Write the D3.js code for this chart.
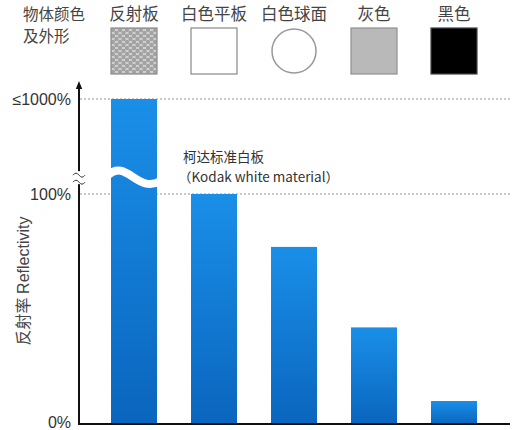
<!DOCTYPE html>
<html>
<head>
<meta charset="utf-8">
<script src="https://cdn.jsdelivr.net/npm/d3@7"></script>
<style>
  body { margin: 0; background: #fff; }
  text { font-family: "Liberation Sans", Arial, "Noto Sans CJK SC", sans-serif; fill: #333; }
  .cjk { font-family: "Noto Sans CJK SC", sans-serif; }
</style>
</head>
<body>
<div id="chart"></div>
<script>
"use strict";
// data
const categories = ["反射板", "白色平板", "白色球面", "灰色", "黑色"];
const swatchKinds = ["reflector", "white", "sphere", "grey", "black"];
const reflectivity = [1000, 100, 77, 42, 10];
const tickValues = [0, 100, 1000];
const tickLabels = ["0%", "100%", "≤1000%"];
const breakValue = 250; // where the y axis is cut
const headerLines = ["物体颜色", "及外形"];
const noteLines = ["柯达标准白板", "（Kodak white material）"];

const width = 518, height = 430;
const svg = d3.select("#chart").append("svg")
    .attr("width", width)
    .attr("height", height)
    .attr("viewBox", `0 0 ${width} ${height}`);

const x = d3.scaleBand().domain(categories).range([91, 497]).paddingInner(0.425).paddingOuter(0.25);
// broken axis: 0..100 linear, 100..1000 squeezed
const y = d3.scaleLinear().domain([0, 100, 1000]).range([424, 194, 99]);
const axisX = 79, rightX = 510;

const defs = svg.append("defs");
const grad = defs.append("linearGradient").attr("id", "barGrad")
    .attr("x1", 0).attr("y1", 0).attr("x2", 0).attr("y2", 1);
grad.append("stop").attr("offset", "0%").attr("stop-color", "#1a8fe8");
grad.append("stop").attr("offset", "100%").attr("stop-color", "#0a65be");

const pat = defs.append("pattern").attr("id", "dots")
    .attr("width", 7).attr("height", 6).attr("patternUnits", "userSpaceOnUse");
pat.append("rect").attr("width", 7).attr("height", 6).attr("fill", "#d6d6d6");
pat.selectAll("circle").data([[0, 0], [7, 0], [3.5, 3], [0, 6], [7, 6]]).join("circle")
    .attr("cx", d => d[0]).attr("cy", d => d[1]).attr("r", 2.2)
    .attr("fill", "#a2a2a2");

const arrow = defs.append("marker").attr("id", "arrow")
    .attr("viewBox", "0 0 10 10").attr("refX", 5).attr("refY", 5)
    .attr("markerWidth", 4).attr("markerHeight", 5).attr("orient", "auto");
arrow.append("path").attr("d", "M0,1 L10,5 L0,9 Z").attr("fill", "#111");

// header
svg.append("g").selectAll("text").data(headerLines).join("text")
    .attr("class", "cjk")
    .attr("x", 23).attr("y", (d, i) => 20 + i * 22)
    .style("font-size", "15.5px").style("fill", "#444")
    .text(d => d);

const cols = svg.append("g").selectAll("g").data(categories).join("g")
    .attr("transform", d => `translate(${x(d) + x.bandwidth() / 2},0)`);
cols.append("text").attr("class", "cjk")
    .attr("y", 20).attr("text-anchor", "middle")
    .style("font-size", "16.5px").style("fill", "#444")
    .text(d => d);

const bw = x.bandwidth();
cols.each(function (d, i) {
    const g = d3.select(this);
    const kind = swatchKinds[i];
    if (kind === "sphere") {
        g.append("circle").attr("cx", 0).attr("cy", 51).attr("r", bw / 2 - 1)
            .attr("fill", "#fff").attr("stroke", "#999").attr("stroke-width", 1.5);
        return;
    }
    const style = {
        reflector: ["url(#dots)", "#8a8a8a"],
        white: ["#fff", "#888"],
        grey: ["#b9b9b9", "#8f8f8f"],
        black: ["#000", "#444"]
    }[kind];
    g.append("rect").attr("x", -bw / 2).attr("y", 28).attr("width", bw).attr("height", 46)
        .attr("fill", style[0]).attr("stroke", style[1]).attr("stroke-width", 1.2);
});

// dotted reference lines
svg.append("g").selectAll("line").data([100, 1000]).join("line")
    .attr("x1", axisX + 1).attr("x2", rightX)
    .attr("y1", d => y(d)).attr("y2", d => y(d))
    .attr("stroke", "#8a96a6").attr("stroke-width", 1).attr("stroke-dasharray", "2,2");

// bars
const data = categories.map((c, i) => ({ c, v: reflectivity[i] }));
svg.append("g").selectAll("rect").data(data).join("rect")
    .attr("x", d => x(d.c)).attr("width", bw)
    .attr("y", d => y(d.v)).attr("height", d => y(0) - y(d.v))
    .attr("fill", "url(#barGrad)");

// break on the tall bar
const by = y(breakValue);
const tall = data.filter(d => d.v > breakValue);
svg.append("g").selectAll("path").data(tall).join("path")
    .attr("d", d => {
        const x0 = x(d.c) - 3, x1 = x(d.c) + bw + 3;
        return `M${x0},${by - 3} C${x0 + 18},${by - 20} ${x1 - 22},${by + 16} ${x1},${by + 3}`;
    })
    .attr("fill", "none").attr("stroke", "#fff").attr("stroke-width", 8);

// axes
svg.append("line")
    .attr("x1", axisX).attr("x2", axisX)
    .attr("y1", y(0) + 1).attr("y2", y(1000) - 14)
    .attr("stroke", "#111").attr("stroke-width", 2)
    .attr("marker-end", "url(#arrow)");
svg.append("line")
    .attr("x1", axisX - 1).attr("x2", rightX)
    .attr("y1", y(0)).attr("y2", y(0))
    .attr("stroke", "#111").attr("stroke-width", 2);

// axis break marks
svg.append("rect").attr("x", axisX - 3).attr("y", by - 7).attr("width", 6).attr("height", 13).attr("fill", "#fff");
svg.append("g").selectAll("path").data([-4, 3]).join("path")
    .attr("d", o => `M${axisX - 6},${by + o + 1} q3,-4 6,0 t6,0`)
    .attr("fill", "none").attr("stroke", "#333").attr("stroke-width", 1);

const yAxis = d3.axisLeft(y).tickValues(tickValues).tickSize(0).tickPadding(0)
    .tickFormat((d, i) => tickLabels[i]);
const ya = svg.append("g").attr("transform", `translate(${axisX - 8},0)`).call(yAxis);
ya.select(".domain").remove();
ya.selectAll("text").style("font-size", "16px").style("fill", "#333")
    .style("font-family", "'Liberation Sans', Arial, sans-serif")
    .attr("dy", (d, i) => i === 0 ? "0.2em" : "0.32em");

// axis title
const title = svg.append("text")
    .attr("transform", "translate(29,281) rotate(-90)")
    .attr("text-anchor", "middle")
    .style("font-size", "16px").style("fill", "#444");
title.append("tspan").attr("class", "cjk").text("反射率 ");
title.append("tspan").text("Reflectivity");

// note
svg.append("text").attr("class", "cjk")
    .style("font-size", "13.5px").style("fill", "#333")
    .selectAll("tspan").data(noteLines).join("tspan")
    .attr("x", (d, i) => i ? 178 : 183)
    .attr("y", (d, i) => i ? 182 : 162)
    .text(d => d);
</script>
</body>
</html>
